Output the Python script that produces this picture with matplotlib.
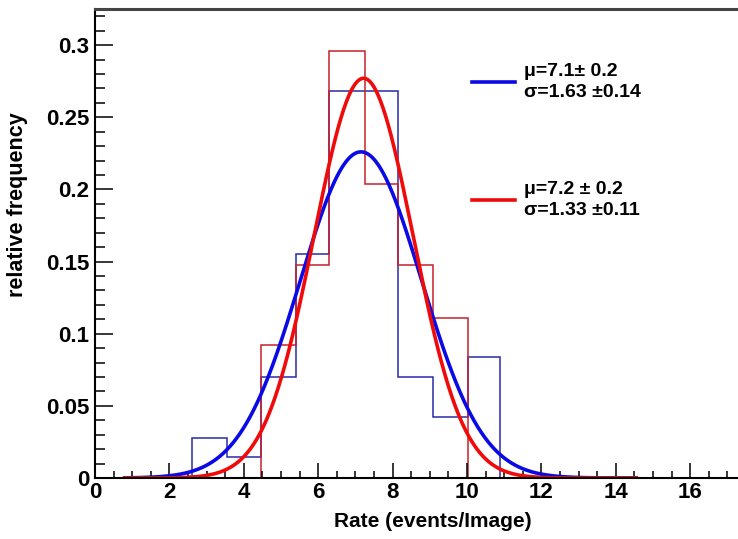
import numpy as np
import matplotlib
matplotlib.use("Agg")
import matplotlib.pyplot as plt
from matplotlib.ticker import MultipleLocator

# ---- data ----
bin_edges = [2.6, 3.56, 4.45, 5.4, 6.3, 7.26, 8.15, 9.08, 10.02, 10.9]
blue_freq = [0.0275, 0.0143, 0.070, 0.155, 0.268, 0.268, 0.070, 0.042, 0.084]
red_freq = [0.0, 0.0, 0.092, 0.1475, 0.296, 0.2035, 0.1475, 0.111, 0.0]

blue_fit = dict(amp=0.226, mu=7.15, sigma=1.63)
red_fit = dict(amp=0.277, mu=7.22, sigma=1.33)
fit_range = (0.8, 14.55)

blue_label = "\u03bc=7.1\u00b1 0.2\n\u03c3=1.63 \u00b10.14"
red_label = "\u03bc=7.2 \u00b1 0.2\n\u03c3=1.33 \u00b10.11"

xlabel = "Rate (events/Image)"
ylabel = "relative frequency"

# ---- plotting ----
plt.rcParams['font.family'] = ['Liberation Sans', 'DejaVu Sans']
plt.rcParams['font.weight'] = 'bold'

fig = plt.figure(figsize=(7.38, 5.39), dpi=100)
ax = fig.add_axes([95/738, 1 - 478/539, 1 - 95/738, (478 - 9)/539])

ax.stairs(blue_freq, bin_edges, color='#2a2aa8', lw=1.1)
ax.stairs(red_freq, bin_edges, color='#c8202a', lw=1.1)

xs = np.linspace(fit_range[0], fit_range[1], 600)
def gauss(x, p):
    return p['amp'] * np.exp(-0.5 * ((x - p['mu']) / p['sigma']) ** 2)

lb, = ax.plot(xs, gauss(xs, blue_fit), color='#0a0ae6', lw=2.6, label=blue_label)
lr, = ax.plot(xs, gauss(xs, red_fit), color='#f00a0a', lw=2.6, label=red_label)

ax.set_xlim(0, (738 - 95) / 37.2)
ax.set_ylim(0, 0.325)

ax.xaxis.set_major_locator(MultipleLocator(2))
ax.xaxis.set_minor_locator(MultipleLocator(0.5))
ax.yaxis.set_major_locator(MultipleLocator(0.05))
ax.yaxis.set_minor_locator(MultipleLocator(0.01))
ax.set_yticks([0, 0.05, 0.1, 0.15, 0.2, 0.25, 0.3])
ax.set_yticklabels(['0', '0.05', '0.1', '0.15', '0.2', '0.25', '0.3'])

ax.tick_params(axis='both', which='both', direction='in', top=False, right=False,
               labelsize=16, width=1.1, color='black')
ax.tick_params(axis='x', which='major', length=11, pad=3)
ax.tick_params(axis='x', which='minor', length=5)
ax.tick_params(axis='y', which='major', length=13, pad=4)
ax.tick_params(axis='y', which='minor', length=7)
for lab in ax.get_xticklabels() + ax.get_yticklabels():
    lab.set_fontweight('bold')

ax.spines['right'].set_visible(False)
ax.spines['left'].set_linewidth(1.5)
ax.spines['bottom'].set_linewidth(1.5)
ax.spines['top'].set_linewidth(2.2)
ax.spines['top'].set_color('#444444')

ax.set_xlabel(xlabel, fontsize=15, fontweight='bold')
ax.set_ylabel(ylabel, fontsize=15.5, fontweight='bold')
ax.xaxis.set_label_coords((433 - 95) / 643, (478 - 512) / 469)
ax.yaxis.set_label_coords((28 - 95) / 643, (478 - 205) / 469)

leg_kw = dict(loc='center left', frameon=False, fontsize=14, handlelength=2.2,
              handletextpad=0.45, borderpad=0, borderaxespad=0)
leg1 = ax.legend(handles=[lb], bbox_to_anchor=((472 - 95) / 643, (478 - 82) / 469), **leg_kw)
ax.add_artist(leg1)
leg2 = ax.legend(handles=[lr], bbox_to_anchor=((472 - 95) / 643, (478 - 200) / 469), **leg_kw)
for leg in (leg1, leg2):
    for t in leg.get_texts():
        t.set_fontweight('bold')
        t.set_linespacing(1.35)

fig.savefig("out.png", dpi=100)
